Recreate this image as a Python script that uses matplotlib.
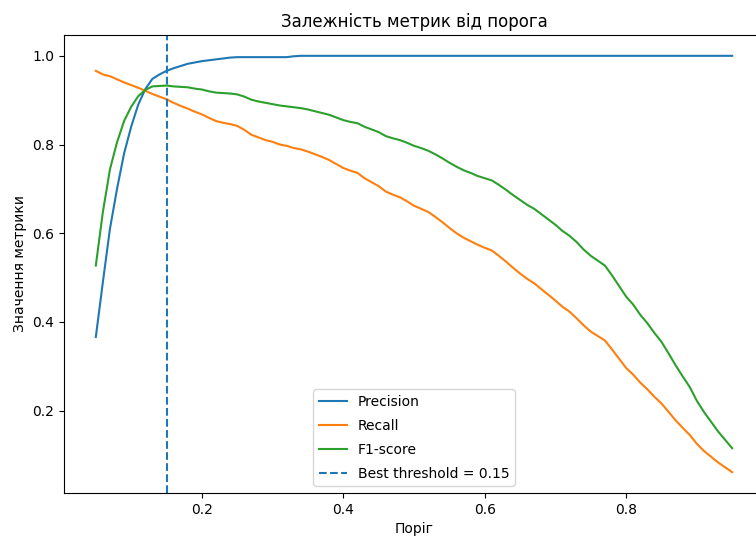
import numpy as np
import matplotlib
matplotlib.use("Agg")
from matplotlib import pyplot as plt

thresholds = np.round(np.arange(0.05, 0.951, 0.01), 2)

precision = [0.366, 0.49, 0.61, 0.70, 0.78, 0.84, 0.89, 0.925, 0.948, 0.958,
             0.966, 0.972, 0.977, 0.982, 0.985, 0.988, 0.990, 0.992, 0.994, 0.996,
             0.997, 0.997, 0.997, 0.997, 0.997, 0.997, 0.997, 0.997, 0.999] + [1.0] * 62

recall = [0.966, 0.958, 0.954, 0.947, 0.940, 0.934, 0.928, 0.921, 0.914, 0.908,
          0.902, 0.894, 0.887, 0.881, 0.874, 0.868, 0.860, 0.853, 0.849, 0.846,
          0.842, 0.833, 0.822, 0.816, 0.810, 0.806, 0.800, 0.797, 0.792, 0.789,
          0.784, 0.778, 0.772, 0.765, 0.756, 0.747, 0.741, 0.736, 0.724, 0.715,
          0.706, 0.694, 0.687, 0.681, 0.672, 0.662, 0.655, 0.648, 0.637, 0.625,
          0.612, 0.600, 0.590, 0.582, 0.574, 0.567, 0.561, 0.549, 0.536, 0.522,
          0.509, 0.497, 0.487, 0.474, 0.461, 0.448, 0.434, 0.423, 0.408, 0.392,
          0.378, 0.368, 0.358, 0.338, 0.317, 0.296, 0.281, 0.263, 0.248, 0.231,
          0.216, 0.197, 0.178, 0.161, 0.145, 0.125, 0.109, 0.096, 0.083, 0.072,
          0.061]

f1 = [0.527, 0.648, 0.744, 0.805, 0.853, 0.885, 0.909, 0.923, 0.931, 0.932,
      0.933, 0.931, 0.930, 0.929, 0.926, 0.924, 0.920, 0.917, 0.916, 0.915,
      0.913, 0.908, 0.901, 0.897, 0.894, 0.891, 0.888, 0.886, 0.884, 0.882,
      0.879, 0.875, 0.871, 0.867, 0.861, 0.855, 0.851, 0.848, 0.840, 0.834,
      0.828, 0.819, 0.814, 0.810, 0.804, 0.797, 0.792, 0.786, 0.778, 0.769,
      0.759, 0.750, 0.742, 0.736, 0.729, 0.724, 0.719, 0.709, 0.698, 0.686,
      0.675, 0.664, 0.655, 0.643, 0.631, 0.619, 0.605, 0.594, 0.580, 0.563,
      0.549, 0.538, 0.527, 0.505, 0.481, 0.457, 0.439, 0.416, 0.397, 0.375,
      0.355, 0.329, 0.302, 0.277, 0.253, 0.222, 0.197, 0.175, 0.153, 0.134,
      0.115]

best_threshold = 0.15

fig = plt.figure(figsize=(7.56, 5.42), dpi=100)
# right edge of the axes runs a bit past the picture, as in the cropped original
ax = fig.add_axes([64 / 756, 49 / 542, 700 / 756, 458 / 542])

ax.plot(thresholds, precision, label="Precision")
ax.plot(thresholds, recall, label="Recall")
ax.plot(thresholds, f1, label="F1-score")
ax.axvline(best_threshold, linestyle="--", label=f"Best threshold = {best_threshold:.2f}")

ax.set_xlabel("Поріг")
ax.set_ylabel("Значення метрики")
ax.set_title("Залежність метрик від порога")
ax.legend(loc="lower center", labelspacing=0.72)

fig.savefig("out.png", dpi=100)
